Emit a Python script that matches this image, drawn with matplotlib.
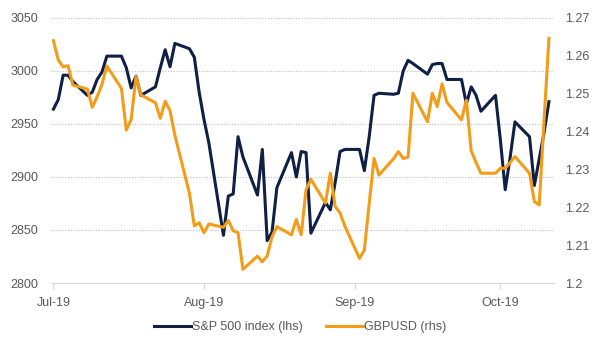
import numpy as np
import pandas as pd
import matplotlib
matplotlib.use("Agg")
import matplotlib.pyplot as plt
import matplotlib.dates as mdates
from matplotlib.ticker import FuncFormatter

plt.rcParams['font.family'] = ['Liberation Sans', 'DejaVu Sans']

# business days Jul 1 - Oct 11 2019 (holidays carried forward)
dates = pd.bdate_range("2019-07-01", "2019-10-11")

spx = [
    2964, 2973, 2996, 2996, 2990,
    2977, 2980, 2992, 2999, 3014,
    3014, 3003, 2984, 2995, 2977,
    2985, 3003, 3020, 3004, 3026,
    3021, 3013, 2980,
    2954, 2932,
    2845, 2882, 2884, 2938, 2919,
    2883, 2926, 2840, 2848, 2890,
    2923, 2900, 2924, 2923, 2847,
    2876, 2869, 2895, 2924, 2926,
    2926, 2906, 2938, 2977, 2979,
    2978, 2979, 3000, 3010, 3007,
    2997, 3006, 3007, 3007, 2992,
    2992, 2969, 2985, 2977, 2962,
    2977,
    2935, 2888, 2918, 2952,
    2938, 2892, 2917, 2942, 2971,
]

gbp = [
    1.2640, 1.2589, 1.2571, 1.2574, 1.2523,
    1.2512, 1.2464, 1.2492, 1.2525, 1.2573,
    1.2514, 1.2404, 1.2431, 1.2545, 1.2497,
    1.2476, 1.2435, 1.2480, 1.2455, 1.2390,
    1.2237, 1.2151, 1.2159,
    1.2133, 1.2156,
    1.2147, 1.2165, 1.2138, 1.2133, 1.2036,
    1.2071, 1.2056, 1.2071, 1.2122, 1.2149,
    1.2127, 1.2168, 1.2127, 1.2246, 1.2274,
    1.2211, 1.2290, 1.2202, 1.2185, 1.2150,
    1.2065, 1.2087, 1.2210, 1.2329, 1.2285,
    1.2328, 1.2347, 1.2329, 1.2332, 1.2501,
    1.2426, 1.2501, 1.2466, 1.2526, 1.2477,
    1.2431, 1.2483, 1.2349, 1.2318, 1.2290,
    1.2290,
    1.2303, 1.2303, 1.2318, 1.2334,
    1.2290, 1.2215, 1.2206, 1.2430, 1.2646,
]

navy = '#0f1f45'
gold = '#f39c1a'
grey = '#595959'

fig = plt.figure(figsize=(6, 3.52), dpi=100)
ax = fig.add_axes([0.085, 0.196, 0.838, 0.753])
ax2 = ax.twinx()

l1, = ax.plot(dates, spx, color=navy, lw=2.2, label='S&P 500 index (lhs)')
l2, = ax2.plot(dates, gbp, color=gold, lw=2.2, label='GBPUSD (rhs)')

ax.set_ylim(2800, 3050)
ax.set_yticks(np.arange(2800, 3051, 50))
ax2.set_ylim(1.2, 1.27)
ax2.set_yticks(np.arange(1.2, 1.2701, 0.01))
ax2.yaxis.set_major_formatter(FuncFormatter(lambda v, p: f"{v:g}"))

ax.set_xlim(pd.Timestamp("2019-06-30 12:00"), pd.Timestamp("2019-10-12"))
ax.xaxis.set_major_locator(mdates.MonthLocator())
ax.xaxis.set_major_formatter(mdates.DateFormatter('%b-%y'))

ax.yaxis.grid(True, linestyle=(0, (1, 1.5)), color='#bfbfbf', lw=0.8)
ax.set_axisbelow(True)

for a in (ax, ax2):
    for s in ('top', 'left', 'right', 'bottom'):
        a.spines[s].set_visible(False)
ax.spines['bottom'].set_visible(True)
ax.spines['bottom'].set_color('#d9d9d9')
ax.spines['bottom'].set_zorder(5)

ax.tick_params(axis='y', length=0, pad=9, labelsize=9, labelcolor=grey)
ax2.tick_params(axis='y', length=0, pad=8, labelsize=9, labelcolor=grey)
ax.tick_params(axis='x', length=4, color='#d9d9d9', pad=6, labelsize=9, labelcolor=grey)

fig.legend(handles=[l1, l2], loc='center', bbox_to_anchor=(0.5, 0.07),
           ncol=2, frameon=False, fontsize=9, handlelength=3.0,
           handletextpad=0.1, columnspacing=1.8, labelcolor=grey)

fig.savefig("out.png", dpi=100)
